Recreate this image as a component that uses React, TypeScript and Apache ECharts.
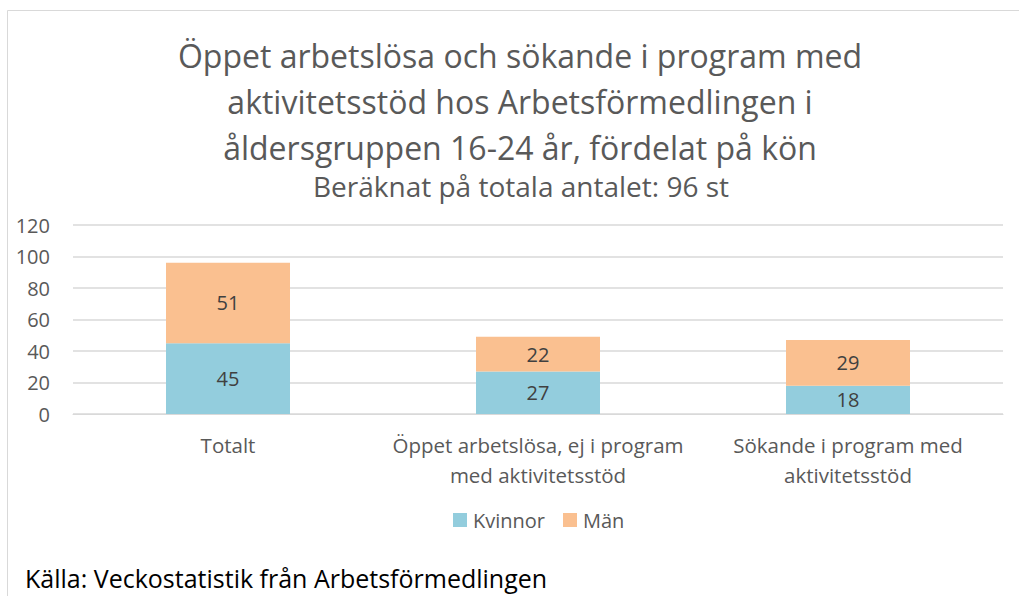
import React, { useEffect, useRef } from "react";
import * as echarts from "echarts";

const categories = [
  "Totalt",
  "Öppet arbetslösa, ej i program\nmed aktivitetsstöd",
  "Sökande i program med\naktivitetsstöd",
];
const kvinnor = [45, 27, 18];
const man = [51, 22, 29];
const yTicks = [0, 20, 40, 60, 80, 100, 120];

const FONT = "'Open Sans', 'Noto Sans', sans-serif";
const TXT = "#595959";

export default function App() {
  const ref = useRef<HTMLDivElement>(null);
  useEffect(() => {
    const chart = echarts.init(ref.current!, undefined, { renderer: "svg" });
    chart.setOption({
      animation: false,
      textStyle: { fontFamily: FONT },
      graphic: [
        {
          type: "rect",
          shape: { x: 7.5, y: 10.5, width: 1030, height: 600 },
          style: { fill: "none", stroke: "#d9d9d9", lineWidth: 1 },
          silent: true,
        },
        {
          type: "text",
          x: 520,
          y: 32,
          style: {
            text: "Öppet arbetslösa och sökande i program med\naktivitetsstöd hos Arbetsförmedlingen i\nåldersgruppen 16-24 år, fördelat på kön",
            font: `32px ${FONT}`,
            fill: TXT,
            align: "center",
            verticalAlign: "top",
            lineHeight: 46,
          },
        },
        {
          type: "text",
          x: 521,
          y: 172,
          style: {
            text: "Beräknat på totala antalet: 96 st",
            font: `28px ${FONT}`,
            fill: TXT,
            align: "center",
            verticalAlign: "top",
          },
        },
        {
          type: "text",
          x: 25,
          y: 564,
          style: {
            text: "Källa: Veckostatistik från Arbetsförmedlingen",
            font: `25px ${FONT}`,
            fill: "#000000",
            verticalAlign: "top",
            lineHeight: 28,
          },
        },
      ],
      legend: {
        top: 505,
        left: 448,
        itemWidth: 14,
        itemHeight: 14,
        itemGap: 18,
        icon: "rect",
        textStyle: { fontSize: 20, color: TXT, fontFamily: FONT, padding: [0, 0, 0, 1] },
        data: ["Kvinnor", "Män"],
      },
      grid: { left: 73, right: 16, top: 225, height: 189, containLabel: false },
      xAxis: {
        type: "category",
        data: categories,
        axisLine: { lineStyle: { color: "#d9d9d9" } },
        axisTick: { show: false },
        axisLabel: {
          color: TXT,
          fontSize: 20.5,
          lineHeight: 30,
          margin: 16,
          interval: 0,
          fontFamily: FONT,
        },
      },
      yAxis: {
        type: "value",
        min: yTicks[0],
        max: yTicks[yTicks.length - 1],
        interval: 20,
        axisLine: { show: false },
        axisTick: { show: false },
        splitLine: { lineStyle: { color: "#d9d9d9", width: 1.5 } },
        axisLabel: { color: TXT, fontSize: 20, margin: 23, fontFamily: FONT },
      },
      series: [
        {
          name: "Kvinnor",
          type: "bar",
          stack: "a",
          data: kvinnor,
          barWidth: "40%",
          itemStyle: { color: "#93CDDD" },
          label: { show: true, position: "inside", color: "#404040", fontSize: 20, fontFamily: FONT },
        },
        {
          name: "Män",
          type: "bar",
          stack: "a",
          data: man,
          barWidth: "40%",
          itemStyle: { color: "#FAC090" },
          label: { show: true, position: "inside", color: "#404040", fontSize: 20, fontFamily: FONT },
        },
      ],
    });
    return () => chart.dispose();
  }, []);
  return (
    <div
      ref={ref}
      style={{ position: "fixed", left: 0, top: 0, width: 1019, height: 596, background: "#fff" }}
    />
  );
}
